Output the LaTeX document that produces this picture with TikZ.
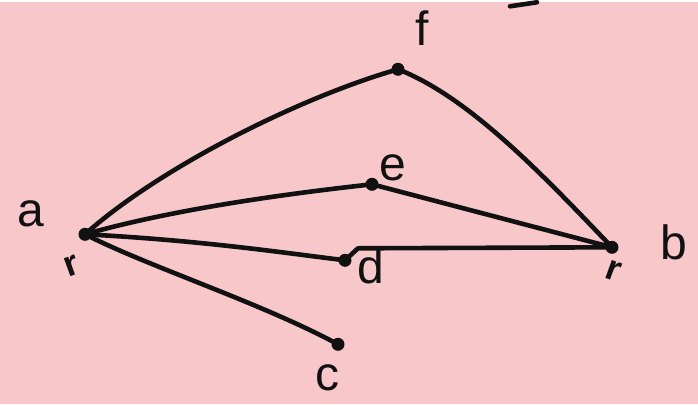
\documentclass[tikz,border=0pt]{standalone}
\usepackage{fontspec}
\setmainfont{Liberation Sans}
\usetikzlibrary{calc}
\definecolor{sketchPink}{HTML}{F7C7CA}
\definecolor{sketchInk}{HTML}{111111}

\begin{document}
\begin{tikzpicture}[x=1pt,y=-1pt,line cap=round,line join=round]
\path[fill=sketchPink] (0,0) rectangle (698,402);
\tikzset{pen/.style={draw=sketchInk,line width=4.6pt},vtx/.style={circle,fill=sketchInk,inner sep=0pt,minimum size=13pt},tag/.style={text=sketchInk,font=\fontsize{48}{48}\selectfont},tick/.style={text=sketchInk,font=\bfseries\fontsize{36}{36}\selectfont}}
\node[vtx] (a) at (85,232) {}; \node[vtx] (f) at (398,67) {}; \node[vtx] (e) at (372,182) {};
\node[vtx] (d) at (345,258) {}; \node[vtx] (c) at (338,342) {}; \node[vtx] (b) at (612,245) {};
\coordinate (kink) at (358,246);
\draw[pen] (a.center) .. controls (160,165) and (300,95) .. (f.center);
\draw[pen] (f.center) .. controls (470,95) and (545,175) .. (b.center);
\draw[pen] (a.center) .. controls (180,205) and (300,190) .. (e.center); \draw[pen] (e.center) -- (b.center);
\draw[pen] (a.center) .. controls (200,238) and (280,250) .. (d.center); \draw[pen] (d.center) -- (kink) -- (b.center);
\draw[pen] (a.center) .. controls (150,265) and (260,300) .. (c.center);
\draw[pen] (510,4) -- (537,0);
\node[tag] (la) at (31,212) {a}; \node[tag] (lf) at (422,26) {f}; \node[tag] (le) at (393,166) {e};
\node[tag] (ld) at (371,264) {d}; \node[tag] (lc) at (327,376) {c}; \node[tag] (lb) at (674,240) {b};
\node[tick,rotate=20] (ma) at (72,264) {r}; \node[tick,rotate=-20] (mb) at (613,268) {r};
\end{tikzpicture}
\end{document}
